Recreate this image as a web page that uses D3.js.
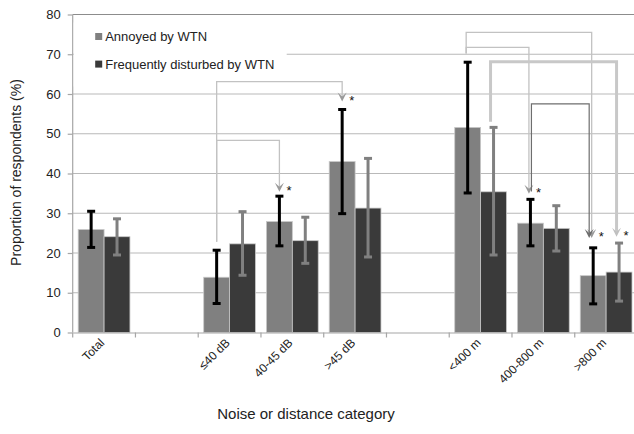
<!DOCTYPE html>
<html>
<head>
<meta charset="utf-8">
<script src="https://cdn.jsdelivr.net/npm/d3@7"></script>
<style>
  body { margin: 0; background: #fff; }
  text { font-family: "Liberation Sans", Arial, sans-serif; }
</style>
</head>
<body>
<div id="chart"></div>
<script>
// categories (blank slots are spacer columns)
var categories = ["Total", "gap1", "≤40 dB", "40-45 dB", ">45 dB", "gap2", "<400 m", "400-800 m", ">800 m"];
var tickLabels = ["Total", "", "≤40 dB", "40-45 dB", ">45 dB", "", "<400 m", "400-800 m", ">800 m"];
var seriesNames = ["Annoyed by WTN", "Frequently disturbed by WTN"];

var annoyed      = [25.9, null, 13.9, 27.9, 43.0, null, 51.6, 27.5, 14.3];
var annoyedLow   = [21.4, null,  7.3, 21.8, 29.9, null, 35.1, 21.8,  7.2];
var annoyedHigh  = [30.5, null, 20.7, 34.3, 56.1, null, 68.0, 33.5, 21.3];
var disturbed     = [24.1, null, 22.3, 23.1, 31.3, null, 35.4, 26.2, 15.2];
var disturbedLow  = [19.5, null, 14.4, 17.4, 19.0, null, 19.5, 20.5,  7.9];
var disturbedHigh = [28.6, null, 30.4, 29.0, 43.8, null, 51.6, 31.9, 22.5];

var yTicks = [0, 10, 20, 30, 40, 50, 60, 70, 80];

// significance brackets: from category/series to category/series, levels in % units
var brackets = [
  {from: "≤40 dB", fs: 0, to: "40-45 dB", ts: 0, top: 48.35, start: 22.8, end: 35.4, kind: "thin"},
  {from: "≤40 dB", fs: 0, to: ">45 dB", ts: 0, top: 63.1, start: 22.8, end: 58.1, kind: "thin"},
  {from: "<400 m", fs: 0, to: ">800 m", ts: 0, top: 75.5, start: 70.2, end: 23.8, kind: "thin"},
  {from: "<400 m", fs: 0, to: "400-800 m", ts: 0, top: 71.75, start: 70.2, end: 34.9, kind: "thin"},
  {from: "<400 m", fs: 1, to: ">800 m", ts: 1, top: 68.1, start: 53.0, end: 24.1, kind: "thick"},
  {from: "400-800 m", fs: 0, to: ">800 m", ts: 0, top: 57.5, start: 35.5, end: 23.8, kind: "dark"}
];

var svgWidth = 634, svgHeight = 434;
var margin = {top: 14.5, left: 72.7, right: -3.5, bottom: 101.5};
var width = svgWidth - margin.left - margin.right;
var height = svgHeight - margin.top - margin.bottom;

var svg = d3.select("#chart").append("svg")
  .attr("width", svgWidth)
  .attr("height", svgHeight);

var chartGroup = svg.append("g")
  .attr("transform", `translate(${margin.left}, ${margin.top})`);

var xScale = d3.scaleBand().domain(categories).range([0, width]).paddingInner(0).paddingOuter(0);
var xSub = d3.scaleBand().domain([0, 1]).range([5.5, xScale.bandwidth() - 5.5]);
var yScale = d3.scaleLinear().domain([0, 80]).range([height, 0]);

// gridlines
chartGroup.selectAll(".grid").data(yTicks.slice(1)).enter().append("line")
  .attr("x1", 0).attr("x2", width + 10)
  .attr("y1", d => yScale(d)).attr("y2", d => yScale(d))
  .attr("stroke", d => d === 80 ? "#8c8c8c" : "#b9b9b9")
  .attr("stroke-width", 1.2);

// y axis
var leftAxis = d3.axisLeft(yScale).tickValues(yTicks).tickSize(5).tickPadding(7).tickFormat(d3.format("d"));
var yAxis = chartGroup.append("g").call(leftAxis);
yAxis.select(".domain").attr("stroke", "#a6a6a6").attr("stroke-width", 1.2).attr("d", `M0,0V${height}`);
yAxis.selectAll(".tick line").attr("stroke", "#a6a6a6").attr("stroke-width", 1.2);
yAxis.selectAll(".tick text").attr("font-size", "13px").attr("fill", "#222")
  .style("font-family", "'Liberation Sans', Arial, sans-serif");

// legend background hides part of the 70 gridline
var legend = chartGroup.append("g");
legend.append("rect").attr("x", 1).attr("y", 8).attr("width", 213).attr("height", 64).attr("fill", "#fff");
seriesNames.forEach(function(name, i) {
  var ly = 22 + i * 27.6;
  legend.append("rect").attr("x", 22.5).attr("y", ly - 3.5).attr("width", 7).attr("height", 7)
    .attr("fill", i === 0 ? "#808080" : "#3a3a3a");
  legend.append("text").attr("x", 32.5).attr("y", ly).attr("dy", "0.35em")
    .attr("font-size", "13px").attr("fill", "#222").text(name);
});

// bars
var barData = [];
categories.forEach(function(c, i) {
  if (annoyed[i] !== null) {
    barData.push({cat: c, s: 0, v: annoyed[i], lo: annoyedLow[i], hi: annoyedHigh[i]});
    barData.push({cat: c, s: 1, v: disturbed[i], lo: disturbedLow[i], hi: disturbedHigh[i]});
  }
});

function barCenter(cat, s) {
  return xScale(cat) + xSub(s) + xSub.bandwidth() / 2;
}

chartGroup.selectAll(".bar").data(barData).enter().append("rect")
  .attr("x", d => xScale(d.cat) + xSub(d.s))
  .attr("y", d => yScale(d.v))
  .attr("width", xSub.bandwidth())
  .attr("height", d => height - yScale(d.v))
  .attr("fill", d => d.s === 0 ? "#808080" : "#3a3a3a")
  .attr("stroke", "#c8c8c8")
  .attr("stroke-width", 0.8);

// x axis
var bottomAxis = d3.axisBottom(xScale).tickSize(0).tickFormat(() => "");
var xAxis = chartGroup.append("g").attr("transform", `translate(0, ${height})`).call(bottomAxis);
xAxis.select(".domain").attr("stroke", "#a6a6a6").attr("stroke-width", 1.2);
var boundaries = categories.map(c => xScale(c));
chartGroup.selectAll(".xtick").data(boundaries).enter().append("line")
  .attr("x1", d => d).attr("x2", d => d)
  .attr("y1", height).attr("y2", height + 5)
  .attr("stroke", "#a6a6a6").attr("stroke-width", 1.2);

chartGroup.selectAll(".xlabel").data(categories).enter().append("text")
  .attr("transform", d => `translate(${xScale(d) + xScale.bandwidth() / 2 + 1}, ${height + 11}) rotate(-45)`)
  .attr("text-anchor", "end")
  .attr("font-size", "12px")
  .attr("fill", "#222")
  .text((d, i) => tickLabels[i]);

// error bars
var capW = 4;
var errGroup = chartGroup.selectAll(".err").data(barData).enter().append("g")
  .attr("stroke", d => d.s === 0 ? "#000" : "#808080")
  .attr("stroke-width", 3);
errGroup.append("line")
  .attr("x1", d => barCenter(d.cat, d.s)).attr("x2", d => barCenter(d.cat, d.s))
  .attr("y1", d => yScale(d.lo)).attr("y2", d => yScale(d.hi));
errGroup.append("line")
  .attr("x1", d => barCenter(d.cat, d.s) - capW).attr("x2", d => barCenter(d.cat, d.s) + capW)
  .attr("y1", d => yScale(d.lo)).attr("y2", d => yScale(d.lo));
errGroup.append("line")
  .attr("x1", d => barCenter(d.cat, d.s) - capW).attr("x2", d => barCenter(d.cat, d.s) + capW)
  .attr("y1", d => yScale(d.hi)).attr("y2", d => yScale(d.hi));

// brackets with arrow heads and stars
var bracketStyle = {
  thin:  {stroke: "#c2c2c2", width: 1.3, arrow: "#9a9a9a", dx0: -1.5, dx1: -1.5},
  thick: {stroke: "#c8c8c8", width: 3, arrow: "#c0c0c0", dx0: -3, dx1: -2.5},
  dark:  {stroke: "#6e6e6e", width: 1.2, arrow: "#6e6e6e", dx0: 1, dx1: -4}
};

var stars = {};
brackets.forEach(function(b) {
  var st = bracketStyle[b.kind];
  var dx0 = b.from.indexOf("dB") >= 0 ? 0 : st.dx0;
  var dx1 = b.from.indexOf("dB") >= 0 ? 0 : st.dx1;
  var x0 = barCenter(b.from, b.fs) + dx0;
  var x1 = barCenter(b.to, b.ts) + dx1;
  var yTop = yScale(b.top), y0 = yScale(b.start), y1 = yScale(b.end);
  chartGroup.append("path")
    .attr("d", `M${x0},${y0}V${yTop}H${x1}V${y1 - 4}`)
    .attr("fill", "none")
    .attr("stroke", st.stroke)
    .attr("stroke-width", st.width);
  chartGroup.append("path")
    .attr("d", `M${x1 - 4.5},${y1 - 9}L${x1},${y1 - 5}L${x1 + 4.5},${y1 - 9}L${x1},${y1}Z`)
    .attr("fill", st.arrow);
  var key = b.to + "|" + b.ts;
  if (!stars[key]) stars[key] = {x: x1, y: y1};
  else stars[key].x = Math.max(stars[key].x, x1);
});

Object.keys(stars).forEach(function(k) {
  var s = stars[k];
  chartGroup.append("text")
    .attr("x", s.x + 7).attr("y", s.y + 3)
    .attr("font-size", "13px").attr("fill", "#111")
    .text("*");
});

// axis titles
svg.append("text")
  .attr("transform", `translate(21, ${margin.top + height / 2 - 1}) rotate(-90)`)
  .attr("text-anchor", "middle")
  .attr("font-size", "14px").attr("fill", "#222")
  .text("Proportion of respondents (%)");

svg.append("text")
  .attr("x", 306).attr("y", 419)
  .attr("text-anchor", "middle")
  .attr("font-size", "15px").attr("fill", "#222")
  .text("Noise or distance category");
</script>
</body>
</html>
